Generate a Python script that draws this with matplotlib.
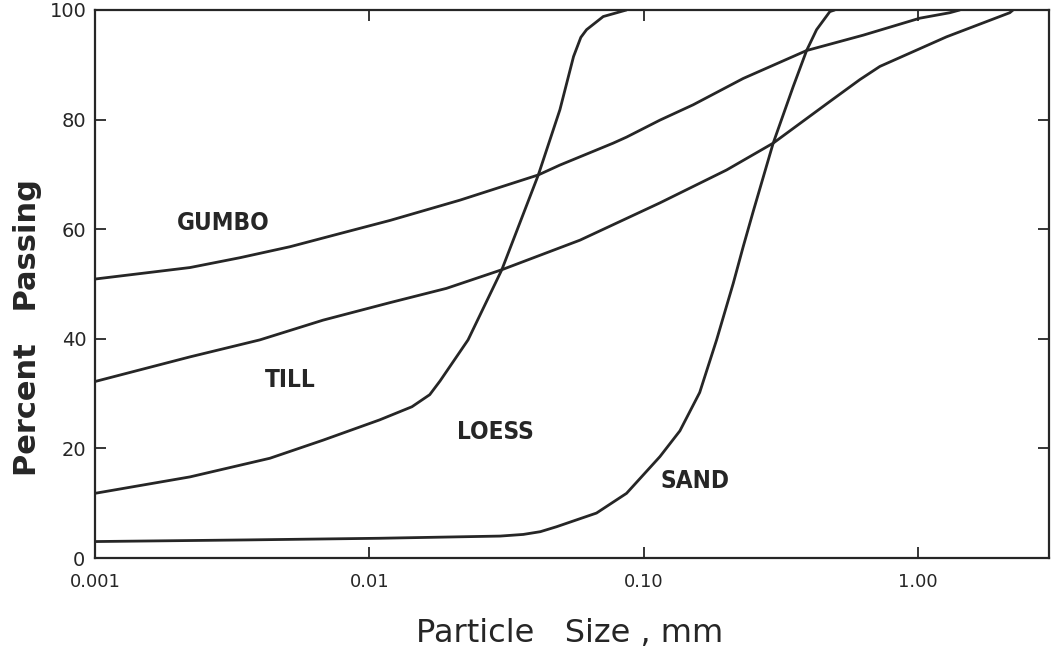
import matplotlib
matplotlib.use("Agg")
import matplotlib.pyplot as plt
from matplotlib.ticker import FixedLocator, NullLocator

# grain size distribution curves (size in mm, percent passing)
gumbo_x = [0.001, 0.00222, 0.00338, 0.00514, 0.00781, 0.0119, 0.0214, 0.0413, 0.0495,
           0.0774, 0.0866, 0.1146, 0.1515, 0.2305, 0.3925, 0.631, 1.015, 1.306, 1.42]
gumbo_y = [50.9, 53.0, 54.8, 56.8, 59.2, 61.6, 65.3, 69.9, 71.7,
           75.7, 76.8, 79.9, 82.7, 87.5, 92.6, 95.4, 98.5, 99.5, 100]

till_x = [0.001, 0.00222, 0.00399, 0.00678, 0.0119, 0.0191, 0.0304, 0.0586, 0.1146,
          0.2005, 0.2965, 0.477, 0.614, 0.726, 1.27, 2.16, 2.22]
till_y = [32.2, 36.7, 39.8, 43.4, 46.6, 49.2, 52.6, 58.0, 64.8,
          70.8, 75.7, 83.3, 87.3, 89.7, 95.1, 99.5, 100]

loess_x = [0.001, 0.00222, 0.00434, 0.00678, 0.0109, 0.0143, 0.0166, 0.0181, 0.0229, 0.0304,
           0.0413, 0.0495, 0.0555, 0.0590, 0.0619, 0.0712, 0.0866]
loess_y = [11.8, 14.8, 18.2, 21.5, 25.2, 27.6, 29.8, 32.3, 39.8, 52.6,
           69.9, 81.8, 91.5, 95.0, 96.4, 98.8, 100]

sand_x = [0.001, 0.0036, 0.0109, 0.0300, 0.0364, 0.0420, 0.0481, 0.0673, 0.0866, 0.1146,
          0.1355, 0.160, 0.1844, 0.212, 0.2305, 0.2506, 0.2965, 0.3506, 0.3925, 0.4267,
          0.477, 0.497]
sand_y = [3.0, 3.3, 3.6, 4.0, 4.3, 4.8, 5.7, 8.2, 11.8, 18.5,
          23.2, 30.2, 39.8, 50.1, 56.8, 63.2, 75.7, 86.0, 92.6, 96.4,
          99.7, 100]

x_ticks = [0.001, 0.01, 0.1, 1.0]
x_labels = ["0.001", "0.01", "0.10", "1.00"]
y_ticks = [20, 40, 60, 80, 100]

line_col = "#262626"
narrow = ["Liberation Sans Narrow", "DejaVu Sans"]

fig = plt.figure(figsize=(10.59, 6.56), dpi=100)
ax = fig.add_axes([0.0897, 0.1494, 0.9008, 0.8354])

for xs, ys in [(gumbo_x, gumbo_y), (till_x, till_y), (loess_x, loess_y), (sand_x, sand_y)]:
    ax.plot(xs, ys, color=line_col, lw=2.0, solid_capstyle="round", solid_joinstyle="round")

ax.set_xscale("log")
ax.set_xlim(0.001, 3.0)
ax.set_ylim(0, 100)

ax.xaxis.set_major_locator(FixedLocator(x_ticks))
ax.xaxis.set_minor_locator(NullLocator())
ax.set_xticklabels(x_labels)
ax.set_yticks(y_ticks)
ax.set_yticklabels([str(v) for v in y_ticks])

ax.tick_params(axis="both", direction="in", length=8, width=1.3, colors=line_col,
               top=True, right=True)
ax.tick_params(axis="x", pad=11, labelsize=13)
ax.tick_params(axis="y", pad=6, labelsize=14)
for s in ax.spines.values():
    s.set_linewidth(1.6)
    s.set_color(line_col)

# the "0" of the y axis sits low and left of the corner
ax.text(-0.0105, -0.004, "0", transform=ax.transAxes, ha="right", va="center",
        fontsize=14, color=line_col)

lab = dict(fontsize=17.5, fontweight="bold", family=narrow, fontstretch="condensed",
           color=line_col, ha="center", va="center")
ax.text(0.00293, 61.2, "GUMBO", **lab)
ax.text(0.00514, 32.5, "TILL", **lab)
ax.text(0.0287, 23.0, "LOESS", **lab)
ax.text(0.1537, 14.0, "SAND", **lab)

ax.set_ylabel("Percent   Passing", fontsize=22, fontweight="bold", color=line_col)
ax.yaxis.set_label_coords(-0.056, 0.42)
ax.set_xlabel("Particle   Size , mm", fontsize=23, color=line_col)
ax.xaxis.set_label_coords(0.498, -0.11)

fig.savefig("out.png", dpi=100)
